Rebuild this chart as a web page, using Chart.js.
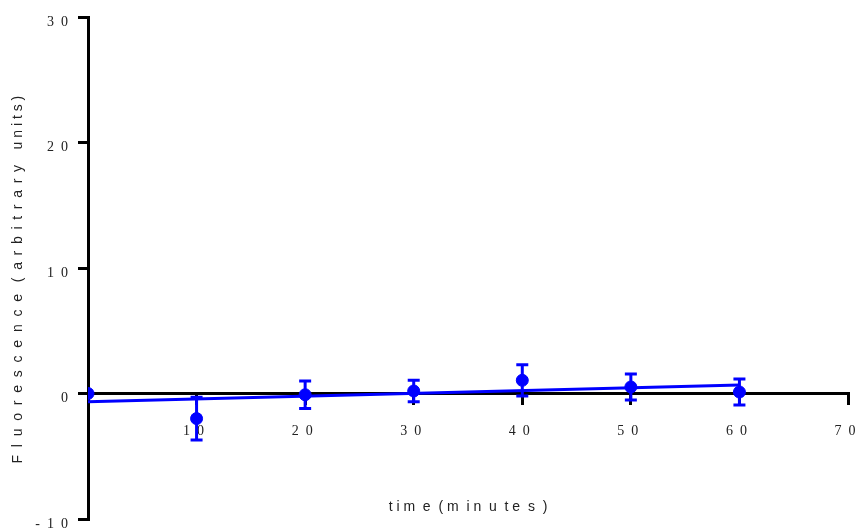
<!DOCTYPE html>
<html lang="en">
<head>
    <meta charset="UTF-8">
    <title>Fluorescence vs time</title>
    <style>
        body {
            margin: 0;
            padding: 0;
            background-color: #ffffff;
        }
        #chartBox {
            width: 857px;
            height: 532px;
        }
    </style>
</head>
<body>

    <div id="chartBox">
        <canvas id="fluorChart" width="857" height="532"></canvas>
    </div>

    <script src="https://cdn.jsdelivr.net/npm/chart.js@4.4.0/dist/chart.umd.min.js"></script>
    <script>

        // values
        var times = [0, 10, 20, 30, 40, 50, 60];
        var fluorMean = [0, -2.0, -0.1, 0.2, 1.05, 0.52, 0.12];
        var fluorErr = [0, 1.7, 1.1, 0.85, 1.25, 1.04, 1.04];
        var fitX = [0, 60];
        var fitY = [-0.65, 0.68];
        var xTicks = [10, 20, 30, 40, 50, 60, 70];
        var yTicks = [-10, 0, 10, 20, 30];

        // the original prints its letters spread apart
        function spread(text, gap) {
            return text.split('').join(gap);
        }

        var xTitle = 't i m  e  ( m  i n  u  t e  s  )';
        // trailing spaces push the rotated title a little lower, as in the original
        var yTitle = spread('Fluorescence', '  ') + '   ' + '(  ' + spread('arbitrary', ' \u2009') +
            '    ' + spread('units', ' ') + ' )' + '      ';

        var blue = '#0000ff';
        var tickFont = { family: "'Liberation Serif', 'Times New Roman', serif", size: 14 };
        var titleFont = { family: "'Liberation Sans', Arial, sans-serif", size: 14 };

        // keep the plot box where the layout padding puts it
        function noScalePadding(scale) {
            scale.paddingTop = 0;
            scale.paddingBottom = 0;
            scale.paddingLeft = 0;
            scale.paddingRight = 0;
        }

        var errorBars = {
            id: 'errorBars',
            afterDatasetsDraw: function(chart) {
                var ctx = chart.ctx;
                var xs = chart.scales.x, ys = chart.scales.y;
                ctx.save();
                ctx.strokeStyle = blue;
                ctx.lineWidth = 3;
                times.forEach(function(t, i) {
                    if (!fluorErr[i]) return;
                    var px = xs.getPixelForValue(t);
                    var top = ys.getPixelForValue(fluorMean[i] + fluorErr[i]);
                    var bot = ys.getPixelForValue(fluorMean[i] - fluorErr[i]);
                    ctx.beginPath();
                    ctx.moveTo(px, top); ctx.lineTo(px, bot);
                    ctx.moveTo(px - 6, top); ctx.lineTo(px + 6, top);
                    ctx.moveTo(px - 6, bot); ctx.lineTo(px + 6, bot);
                    ctx.stroke();
                });
                ctx.restore();
            }
        };

        var ctxFluor = document.getElementById('fluorChart').getContext('2d');
        var fluorChart = new Chart(ctxFluor, {
            type: 'scatter',
            data: {
                datasets: [{
                    label: 'mean',
                    data: times.map(function(t, i) { return { x: t, y: fluorMean[i] }; }),
                    backgroundColor: blue,
                    borderColor: blue,
                    pointRadius: 6,
                    showLine: false
                },
                {
                    label: 'fit',
                    type: 'line',
                    data: fitX.map(function(x, i) { return { x: x, y: fitY[i] }; }),
                    borderColor: blue,
                    borderWidth: 3,
                    pointRadius: 0,
                    fill: false
                }]
            },
            options: {
                responsive: false,
                animation: false,
                layout: { padding: { left: 0, right: 9, top: 17, bottom: 13 } },
                plugins: {
                    legend: { display: false },
                    tooltip: { enabled: false }
                },
                scales: {
                    x: {
                        type: 'linear',
                        position: { y: 0 },
                        min: 0,
                        max: 70,
                        afterBuildTicks: function(scale) {
                            scale.ticks = [0].concat(xTicks).map(function(v) { return { value: v }; });
                        },
                        afterFit: noScalePadding,
                        ticks: {
                            color: '#222',
                            font: tickFont,
                            padding: 19,
                            labelOffset: -3,
                            maxRotation: 0,
                            callback: function(v) { return v === 0 ? '' : spread(String(v), '  '); }
                        },
                        grid: { drawOnChartArea: false, color: '#000', lineWidth: 3, tickLength: 10 },
                        border: { display: true, color: '#000', width: 3 },
                        title: {
                            display: true,
                            text: xTitle,
                            color: '#222',
                            font: titleFont,
                            padding: { top: 40, bottom: 0 }
                        }
                    },
                    y: {
                        type: 'linear',
                        min: -10,
                        max: 30,
                        afterBuildTicks: function(scale) {
                            scale.ticks = yTicks.map(function(v) { return { value: v }; });
                        },
                        afterFit: function(scale) {
                            scale.width = 88;
                            noScalePadding(scale);
                        },
                        ticks: {
                            color: '#222',
                            font: tickFont,
                            padding: 10,
                            labelOffset: 5,
                            callback: function(v) { return spread(String(v), '  '); }
                        },
                        grid: { drawOnChartArea: false, color: '#000', lineWidth: 3, tickLength: 10 },
                        border: { display: true, color: '#000', width: 3 },
                        title: {
                            display: true,
                            text: yTitle,
                            color: '#222',
                            font: titleFont,
                            padding: { top: 10, bottom: 0 }
                        }
                    }
                }
            },
            plugins: [errorBars]
        });
    </script>
</body>
</html>
